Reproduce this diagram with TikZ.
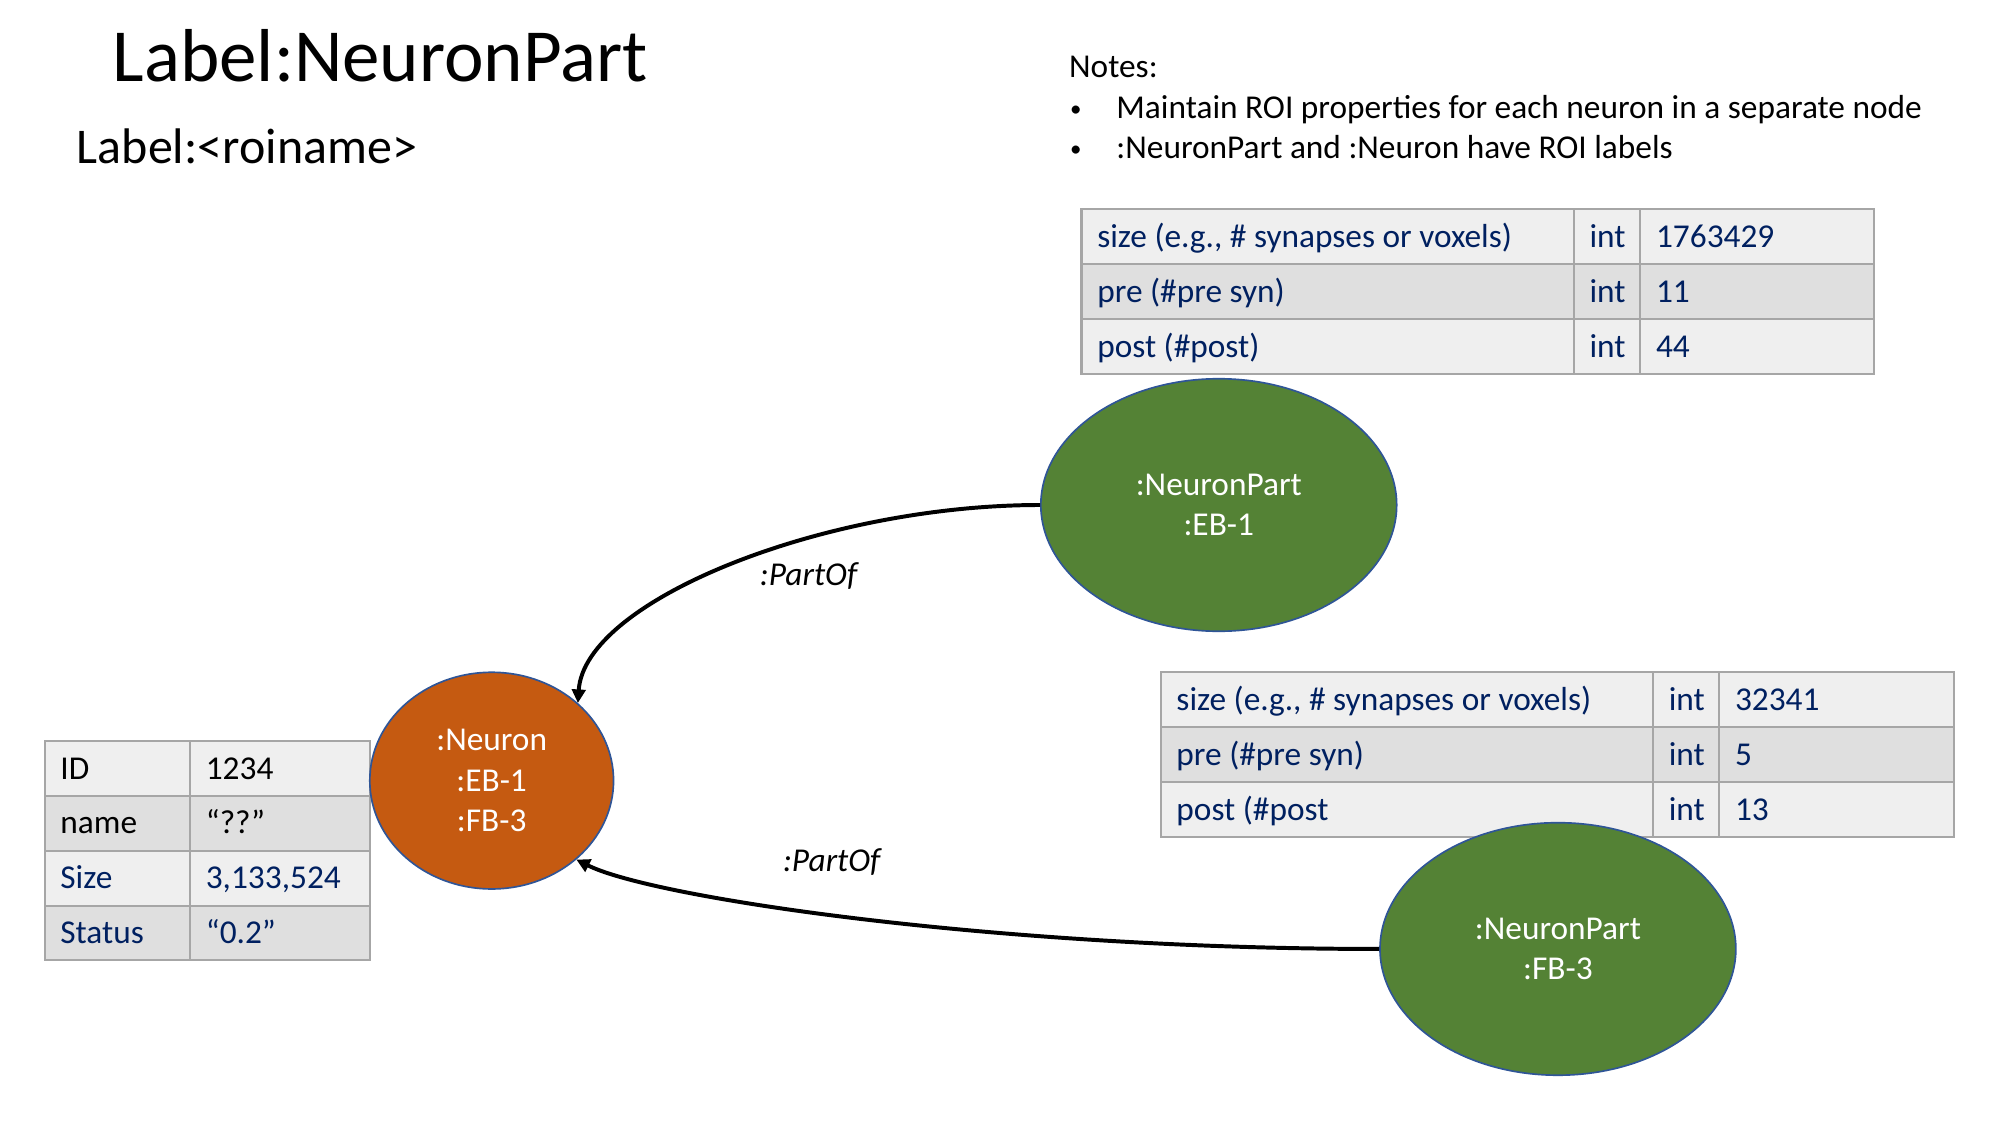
\documentclass[tikz,border=0pt]{standalone}
\usepackage{fontspec}
\setmainfont{Carlito}
\usetikzlibrary{shapes.geometric,arrows.meta,calc}
\definecolor{neuronfill}{HTML}{C55A11}
\definecolor{partfill}{HTML}{548235}
\definecolor{nodeline}{HTML}{2F5597}
\definecolor{rowlight}{HTML}{EFEFEF}
\definecolor{rowdark}{HTML}{DFDFDF}
\definecolor{gridline}{HTML}{A6A6A6}
\definecolor{navy}{HTML}{002060}
\begin{document}
\begin{tikzpicture}[x=1pt,y=-1pt,
  txt/.style={font=\fontsize{16}{19.3}\selectfont},
  cell/.style={txt,anchor=base west,inner sep=0pt,text=navy},
  cellk/.style={cell,text=black},
  bulletmark/.style={anchor=base west,inner sep=0pt,font=\fontsize{11}{13}\selectfont},
  grid/.style={draw=gridline,line width=1pt},
  entity/.style={ellipse,draw=nodeline,line width=0.8pt,inner sep=0pt,
    text=white,txt,align=center},
  rel/.style={line width=1.9pt,-{Triangle[length=6.5pt,width=6.5pt]}},
  rellabel/.style={txt,font=\fontsize{16}{19.3}\selectfont\itshape,inner sep=0pt}]
\useasboundingbox (0,0) rectangle (960,540);
\fill[white] (0,0) rectangle (960,540);

% headings
\node[anchor=base west,inner sep=0pt,font=\fontsize{36}{43}\selectfont] (title) at (53.9,39.2) {Label:NeuronPart};
\node[anchor=base west,inner sep=0pt,font=\fontsize{24}{29}\selectfont] (sub) at (36.7,78.4) {Label:<roiname>};

% notes
\node[cellk] (notes) at (513.0,37.3) {Notes:};
\node[bulletmark] (b1) at (513.5,56.0) {•};
\node[cellk] (n1) at (535.7,57.0) {Maintain ROI properties for each neuron in a separate node};
\node[bulletmark] (b2) at (513.5,75.0) {•};
\node[cellk] (n2) at (535.7,76.0) {:NeuronPart and :Neuron have ROI labels};

% property table of :NeuronPart :EB-1
\fill[rowlight] (519.1,100.4) rectangle (899.3,126.7);
\fill[rowdark]  (519.1,126.7) rectangle (899.3,153.0);
\fill[rowlight] (519.1,153.0) rectangle (899.3,179.4);
\draw[grid] (519.1,100.4) rectangle (899.3,179.4);
\draw[grid] (519.1,126.7) -- (899.3,126.7) (519.1,153.0) -- (899.3,153.0)
            (755.4,100.4) -- (755.4,179.4) (787.3,100.4) -- (787.3,179.4);
\node[cell] (ta1) at (526.5,118.7) {size (e.g., \# synapses or voxels)};
\node[cell] (ta2) at (762.8,118.7) {int};
\node[cell] (ta3) at (794.7,118.7) {1763429};
\node[cell] (tb1) at (526.5,145.0) {pre (\#pre syn)};
\node[cell] (tb2) at (762.8,145.0) {int};
\node[cell] (tb3) at (794.7,145.0) {11};
\node[cell] (tc1) at (526.5,171.4) {post (\#post)};
\node[cell] (tc2) at (762.8,171.4) {int};
\node[cell] (tc3) at (794.7,171.4) {44};

% property table of :NeuronPart :FB-3
\fill[rowlight] (557.1,322.6) rectangle (937.9,349.0);
\fill[rowdark]  (557.1,349.0) rectangle (937.9,375.3);
\fill[rowlight] (557.1,375.3) rectangle (937.9,401.6);
\draw[grid] (557.1,322.6) rectangle (937.9,401.6);
\draw[grid] (557.1,349.0) -- (937.9,349.0) (557.1,375.3) -- (937.9,375.3)
            (793.4,322.6) -- (793.4,401.6) (825.2,322.6) -- (825.2,401.6);
\node[cell] (ua1) at (564.5,341.0) {size (e.g., \# synapses or voxels)};
\node[cell] (ua2) at (800.8,341.0) {int};
\node[cell] (ua3) at (832.6,341.0) {32341};
\node[cell] (ub1) at (564.5,367.3) {pre (\#pre syn)};
\node[cell] (ub2) at (800.8,367.3) {int};
\node[cell] (ub3) at (832.6,367.3) {5};
\node[cell] (uc1) at (564.5,393.6) {post (\#post};
\node[cell] (uc2) at (800.8,393.6) {int};
\node[cell] (uc3) at (832.6,393.6) {13};

% property table of :Neuron
\fill[rowlight] (21.4,355.7) rectangle (177.5,382.0);
\fill[rowdark]  (21.4,382.0) rectangle (177.5,408.3);
\fill[rowlight] (21.4,408.3) rectangle (177.5,434.7);
\fill[rowdark]  (21.4,434.7) rectangle (177.5,461.0);
\draw[grid] (21.4,355.7) rectangle (177.5,461.0);
\draw[grid] (21.4,382.0) -- (177.5,382.0) (21.4,408.3) -- (177.5,408.3)
            (21.4,434.7) -- (177.5,434.7) (91.2,355.7) -- (91.2,461.0);
\node[cellk] (va1) at (28.8,374.0) {ID};
\node[cellk] (va2) at (98.6,374.0) {1234};
\node[cellk] (vb1) at (28.8,400.3) {name};
\node[cellk] (vb2) at (98.6,400.3) {“??”};
\node[cell]  (vc1) at (28.8,426.6) {Size};
\node[cell]  (vc2) at (98.6,426.6) {3,133,524};
\node[cell]  (vd1) at (28.8,453.0) {Status};
\node[cell]  (vd2) at (98.6,453.0) {“0.2”};

% graph nodes
\node[entity,fill=neuronfill,minimum width=117pt,minimum height=104pt] (neuron) at (236.0,374.7) {:Neuron\\:EB-1\\:FB-3};
\node[entity,fill=partfill,minimum width=170.8pt,minimum height=121.2pt] (eb) at (585.0,242.4) {:NeuronPart\\:EB-1};
\node[entity,fill=partfill,minimum width=170.8pt,minimum height=121.2pt] (fb) at (747.8,455.5) {:NeuronPart\\:FB-3};

% relationships
\draw[rel] (eb.west) .. controls ($(eb.west)+(-104.1,0)$) and ($(neuron.42)+(3.1,-49)$) .. (neuron.42);
\draw[rel] (fb.west) .. controls ($(fb.west)+(-183.7,0)$) and ($(neuron.-43)+(36.7,18.4)$) .. (neuron.-43);
\node[rellabel] (l1) at (388.1,276.7) {:PartOf};
\node[rellabel] (l2) at (399.2,413.9) {:PartOf};
\end{tikzpicture}
\end{document}
